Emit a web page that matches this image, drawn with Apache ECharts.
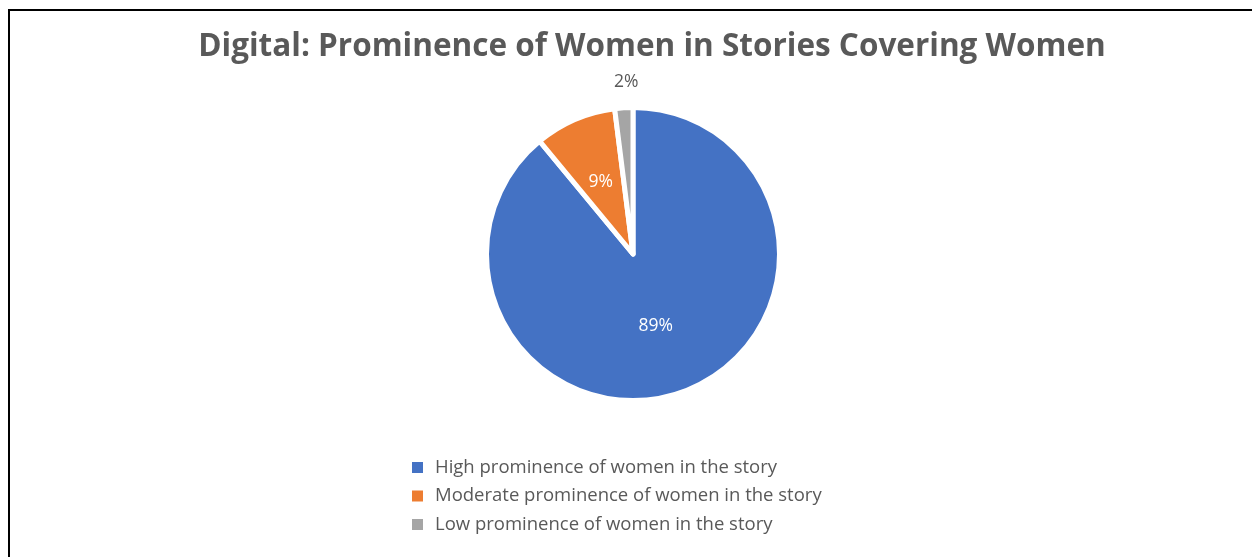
<!DOCTYPE html>
<html>
<head>
<meta charset="utf-8">
<script src="https://cdn.jsdelivr.net/npm/echarts@6/dist/echarts.min.js"></script>
<style>
  html, body { margin: 0; padding: 0; background: #fff; overflow: hidden; }
  #chart { position: absolute; left: 0; top: 0; width: 1252px; height: 557px; }
</style>
</head>
<body>
<div id="chart"></div>
<script>
const titleText = 'Digital: Prominence of Women in Stories Covering Women';
const categories = [
  'High prominence of women in the story',
  'Moderate prominence of women in the story',
  'Low prominence of women in the story'
];
const shares = [89, 9, 2];
const sliceColors = ['#4472C4', '#ED7D31', '#A5A5A5'];
const labelPlacement = ['inside', 'inside', 'outside'];

const chart = echarts.init(document.getElementById('chart'), null, { renderer: 'canvas' });

const data = categories.map((name, i) => ({
  name,
  value: shares[i],
  itemStyle: { color: sliceColors[i] },
  label: labelPlacement[i] === 'inside'
    ? { position: 'inside', color: '#FFFFFF' }
    : { position: 'outside', color: '#595959' },
  labelLine: { show: false, length: 26, length2: 0 }
}));

chart.setOption({
  animation: false,
  // chart-area frame: only the left and top edges are drawn
  graphic: [
    { type: 'line', shape: { x1: 9, y1: 10, x2: 9, y2: 560 }, style: { stroke: '#000', lineWidth: 2 } },
    { type: 'line', shape: { x1: 8, y1: 10, x2: 1260, y2: 10 }, style: { stroke: '#000', lineWidth: 2 } }
  ],
  title: {
    text: titleText,
    left: 647,
    textAlign: 'center',
    top: 26,
    textStyle: { fontFamily: 'Open Sans', fontWeight: 'bold', fontSize: 31.5, color: '#595959' }
  },
  legend: {
    orient: 'vertical',
    left: 410,
    top: 458,
    padding: 0,
    itemWidth: 13,
    itemHeight: 13,
    itemGap: 9.5,
    icon: 'rect',
    data: categories,
    textStyle: { fontFamily: 'Open Sans', fontSize: 18.5, color: '#595959', padding: [0, 0, 0, 6] }
  },
  series: [{
    type: 'pie',
    center: [633, 254],
    radius: 146.5,
    startAngle: 90,
    clockwise: true,
    avoidLabelOverlap: false,
    itemStyle: { borderColor: '#FFFFFF', borderWidth: 5 },
    label: {
      formatter: '{d}%',
      fontFamily: 'Open Sans',
      fontSize: 17.5
    },
    labelLayout: function (params) {
      if (params.dataIndex === 2) {
        return { align: 'center', dx: 9 };
      }
      if (params.dataIndex === 0) {
        return { dx: -3 };
      }
      if (params.dataIndex === 1) {
        return { dx: -2, dy: -2 };
      }
      return {};
    },
    emphasis: { disabled: true },
    data: data
  }]
});
</script>
</body>
</html>
